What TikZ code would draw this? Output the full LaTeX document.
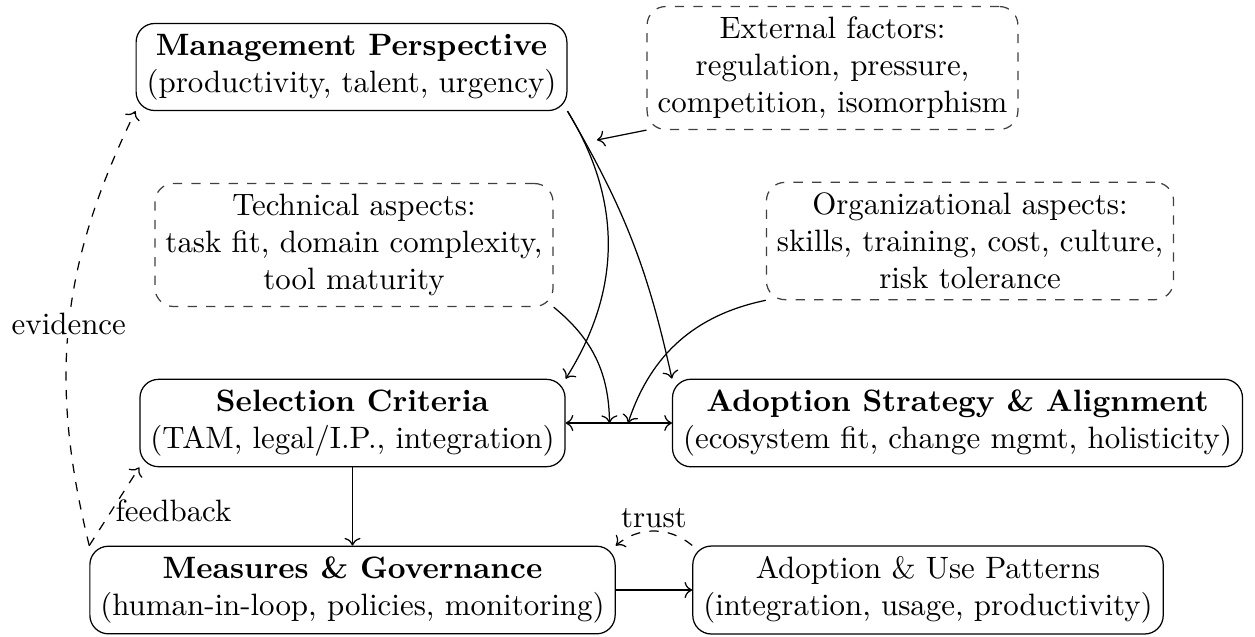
\documentclass[tikz,border=0pt]{standalone}
\usetikzlibrary{arrows.meta,calc}
\begin{document}
\begin{tikzpicture}[x=0.3236pt, y=-0.3236pt,
  box/.style={draw, rounded corners=6pt, align=center, inner sep=3.4pt},
  factor/.style={draw=black!75, dashed, rounded corners=6pt, align=center, inner sep=3.4pt},
  link/.style={->, >=To},
  softlink/.style={->, >=To, dashed},
  tag/.style={inner sep=1pt}]
  \useasboundingbox (0,0) rectangle (1255,636);

  % main blocks
  \node[box] (mgmt) at (351.5,67) {\textbf{Management Perspective}\\(productivity, talent, urgency)};
  \node[box] (sel) at (352.5,423) {\textbf{Selection Criteria}\\(TAM, legal/I.P., integration)};
  \node[box] (strat) at (957.5,423) {\textbf{Adoption Strategy \& Alignment}\\(ecosystem fit, change mgmt, holisticity)};
  \node[box] (meas) at (352.5,590) {\textbf{Measures \& Governance}\\(human-in-loop, policies, monitoring)};
  \node[box] (use) at (928,590) {Adoption \& Use Patterns\\(integration, usage, productivity)};

  % influencing factors
  \node[factor] (ext) at (832.5,68) {External factors:\\regulation, pressure,\\competition, isomorphism};
  \node[factor] (tech) at (354,245) {Technical aspects:\\task fit, domain complexity,\\tool maturity};
  \node[factor] (org) at (970,241) {Organizational aspects:\\skills, training, cost, culture,\\risk tolerance};

  % junction points
  \coordinate (mid) at ($(sel.east)!0.5!(strat.west)$);
  \coordinate (hit) at (597,140);

  % management drives selection and strategy
  \draw[link] (mgmt.south east) to[bend left=32] (sel.north east);
  \draw[link] (mgmt.south east) to[bend left=9] (strat.north west);
  \draw[link] (ext.south west) -- (hit);

  % selection and strategy align
  \draw[<->, >=To] (sel.east) -- (strat.west);
  \draw[link] (tech.south east) to[bend left=25] ([xshift=-3]mid);
  \draw[link] (org.south west) to[bend right=30] ([xshift=3]mid);

  % governance chain
  \draw[link] (sel.south) -- (meas.north);
  \draw[link] (meas.east) -- (use.west);
  \draw[softlink] (use.north west) to[bend right=40] node[above, tag] {trust} (meas.north east);
  \draw[softlink] (meas.north west) -- node[right, tag, pos=0.45] {feedback} (sel.south west);
  \draw[softlink] (meas.north west) to[bend left=20] node[fill=white, tag, pos=0.5] {evidence} (mgmt.south west);
\end{tikzpicture}
\end{document}
